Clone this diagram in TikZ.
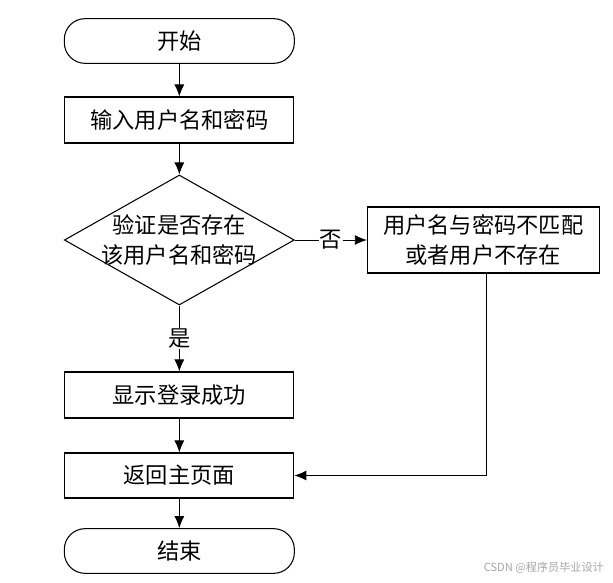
\documentclass[tikz,border=0pt]{standalone}
\usepackage{fontspec}
\newfontfamily\cjk{Noto Sans CJK SC}
\usetikzlibrary{shapes.geometric,arrows.meta}

\begin{document}
\begin{tikzpicture}[
    cjktext/.style={font=\cjk\fontsize{19}{26}\selectfont},
    terminal/.style={draw, line width=0.9pt, rounded corners=0.62cm, minimum width=6.9cm, minimum height=1.34cm, cjktext},
    process/.style={draw, line width=0.9pt, minimum width=6.87cm, minimum height=1.38cm, align=center, cjktext},
    decision/.style={draw, diamond, aspect=1.77, line width=0.9pt, minimum width=6.9cm, minimum height=3.9cm, inner sep=-3pt, align=center, cjktext},
    flow/.style={line width=0.8pt, -{Latex[length=0.36cm,width=0.3cm]}}
]
    \useasboundingbox (0,0) rectangle (18.39,-17.46);

    % Start
    \node[terminal] at (5.38,-1.23) (start) {开始};

    % Input user name and password
    \node[process] at ([yshift=-2.37cm]start.center) (input) {输入用户名和密码};

    % Check
    \node[decision] at ([yshift=-3.6cm]input.center) (check) {验证是否存在\\该用户名和密码};

    % No match box
    \node[process, minimum width=6.96cm, minimum height=1.98cm] at ([xshift=9.12cm]check.center) (nomatch) {用户名与密码不匹配\\或者用户不存在};

    % Success
    \node[process] at ([yshift=-4.65cm]check.center) (success) {显示登录成功};

    % Back to main page
    \node[process, minimum height=1.35cm] at ([yshift=-2.415cm]success.center) (back) {返回主页面};

    % End
    \node[terminal] at ([yshift=-2.265cm]back.center) (stop) {结束};

    % Connectors
    \draw[flow] (start) -- (input);
    \draw[flow] (input) -- (check);
    \draw[flow] (check.east) -- node[fill=white, inner sep=1pt, cjktext] {否} (nomatch.west);
    \draw[flow] (check.south) -- node[fill=white, inner sep=1pt, cjktext] {是} (success.north);
    \draw[flow] (success) -- (back);
    \draw[flow] ([xshift=0.09cm]nomatch.south) |- (back.east);
    \draw[flow] (back) -- (stop);

    % Watermark
    \node[anchor=east, text=gray!70, font=\cjk\fontsize{9.5}{11}\selectfont] at (18.24,-17.04) (mark) {CSDN @程序员毕业设计};
\end{tikzpicture}
\end{document}
